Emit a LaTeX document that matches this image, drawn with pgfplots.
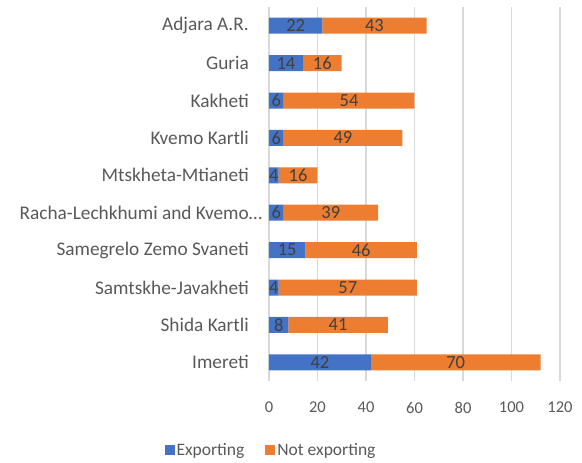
\documentclass[border=0pt]{standalone}
\usepackage{pgfplots}
\usepackage{pgfplotstable}
\pgfplotsset{compat=1.18}
\usepackage{fontspec}
\setmainfont{Carlito}
\definecolor{cblue}{HTML}{4472C4}
\definecolor{corange}{HTML}{ED7D31}
\definecolor{cgrid}{HTML}{D9D9D9}
\definecolor{ctext}{HTML}{595959}
\definecolor{clabel}{HTML}{404040}
\pgfplotstableread{
id exp notexp
0 42 70
1 8 41
2 4 57
3 15 46
4 6 39
5 4 16
6 6 49
7 6 54
8 14 16
9 22 43
}\datatable
\pgfplotsset{
  common/.style={
    at={(0,0)}, anchor=south west,
    scale only axis,
    width=291bp, height=374bp,
    xmin=0, xmax=120,
    ymin=-0.5, ymax=9.5,
    clip=false,
  }
}
\begin{document}
\begin{tikzpicture}
\useasboundingbox (-269bp,-82bp) rectangle (313bp,381bp);
\begin{axis}[
  common,
  xbar stacked,
  bar width=16bp,
  xtick={0,20,...,120},
  ytick={0,...,9},
  yticklabels={Imereti,Shida Kartli,Samtskhe-Javakheti,Samegrelo Zemo Svaneti,Racha-Lechkhumi and Kvemo\rlap{…},Mtskheta-Mtianeti,Kvemo Kartli,Kakheti,Guria,Adjara A.R.},
  xmajorgrids,
  grid style={cgrid, line width=1.2bp},
  axis line style={draw=none},
  major tick length=0pt,
  /pgf/number format/assume math mode=true,
  xticklabel style={font=\fontsize{16.5bp}{19bp}\selectfont, text=ctext, anchor=north, inner sep=0pt, yshift=-21bp},
  yticklabel style={font=\fontsize{19.3bp}{22bp}\selectfont, text=ctext, anchor=east, inner sep=0pt, xshift=-20bp},
  legend style={at={(0.007,-0.186)}, anchor=center, draw=none, fill=none, legend columns=2,
    font=\fontsize{17.5bp}{20bp}\selectfont, text=ctext,
    /tikz/every even column/.append style={column sep=19bp}},
  legend image code/.code={\fill[#1] (0bp,-4.5bp) rectangle (10bp,5.5bp);},
]
\addplot[fill=cblue, draw=none] table[x=exp, y=id] {\datatable};
\addplot[fill=corange, draw=none] table[x=notexp, y=id] {\datatable};
\legend{Exporting, Not exporting}
\end{axis}
\begin{axis}[
  common,
  hide axis,
  point meta=explicit symbolic,
  nodes near coords,
  every node near coord/.style={anchor=center, font=\fontsize{18.5bp}{21bp}\selectfont, text=clabel, inner sep=0pt},
]
\addplot[only marks, mark=none, draw=none] table[x expr=\thisrow{exp}/2, y=id, meta=exp] {\datatable};
\addplot[only marks, mark=none, draw=none] table[x expr=\thisrow{exp}+\thisrow{notexp}/2, y=id, meta=notexp] {\datatable};
\end{axis}
\end{tikzpicture}
\end{document}
